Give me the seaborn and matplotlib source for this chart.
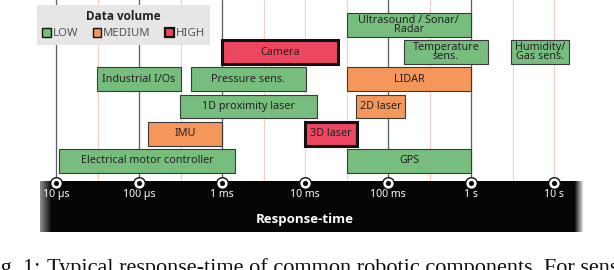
import numpy as np
import pandas as pd
import seaborn as sns
import matplotlib
matplotlib.use('Agg')
import matplotlib.pyplot as plt
from matplotlib.patches import Patch

# component response-time ranges (seconds)
names = ['Ultrasound / Sonar/\nRadar', 'Camera', 'Temperature\nsens.', 'Humidity/\nGas sens.',
         'Industrial I/Os', 'Pressure sens.', 'LIDAR',
         '1D proximity laser', '2D laser',
         'IMU', '3D laser',
         'Electrical motor controller', 'GPS']
starts = [0.0316, 0.001, 0.156, 3.0,
          3.1e-5, 4.2e-4, 0.032,
          3.1e-4, 0.041,
          1.3e-4, 0.01,
          1.1e-5, 0.032]
ends = [1.0, 0.025, 1.6, 15.0,
        3.2e-4, 0.0103, 1.0,
        0.014, 0.16,
        0.001, 0.042,
        1.45e-3, 1.0]
rows = [0, 1, 1, 1, 2, 2, 2, 3, 3, 4, 4, 5, 5]
volume = ['LOW', 'HIGH', 'LOW', 'LOW', 'LOW', 'LOW', 'MEDIUM',
          'LOW', 'MEDIUM', 'MEDIUM', 'HIGH', 'LOW', 'LOW']

tick_vals = [1e-5, 1e-4, 1e-3, 1e-2, 1e-1, 1, 10]
tick_labels = ['10 µs', '100 µs', '1 ms', '10 ms', '100 ms', '1 s', '10 s']

colors = {'LOW': '#77be7e', 'MEDIUM': '#f5975a', 'HIGH': '#ec4660'}

df = pd.DataFrame({'name': names, 'start': starts, 'end': ends, 'row': rows, 'volume': volume})

sns.set_theme(style='white')
plt.rcParams['font.family'] = ['Noto Sans', 'DejaVu Sans']
BOLD = ['Open Sans', 'DejaVu Sans']

W, H = 614, 270
fig = plt.figure(figsize=(W / 100, H / 100), dpi=100)
xlim = (10 ** -5.193, 10 ** 1.349)

# bars area
ax = fig.add_axes([40 / W, 1 - 181 / H, 543 / W, 181 / H])
ax.set_xscale('log')
ax.set_xlim(*xlim)
ax.set_ylim(5.74, -0.92)
ax.axis('off')

# grid lines
for e in np.arange(-5, 1.01, 0.5):
    ax.axvline(10 ** e, color='#f6cdc2', lw=0.8, zorder=0)
for t in [1e-5, 1e-4, 1e-3, 1e-1, 1]:
    ax.axvline(t, color='#56606c', lw=0.9, zorder=0.5)

for _, r in df.iterrows():
    high = r['volume'] == 'HIGH'
    ax.barh(r['row'], r['end'] - r['start'], left=r['start'], height=0.88,
            color=colors[r['volume']], edgecolor='#111111' if high else '#3a3a3a',
            linewidth=2.2 if high else 0.8, zorder=2)
    xc = np.sqrt(r['start'] * r['end'])
    ax.text(xc, r['row'], r['name'], ha='center', va='center', fontsize=7.8,
            color='#222222', linespacing=0.8, zorder=3)

# response-time band (image in pixel units, ticks on a log overlay)
rect = [40 / W, 1 - 232 / H, 543 / W, 51 / H]
bax = fig.add_axes(rect)
n = 543
shade = np.full(n, 0.02)
shade[:12] = np.linspace(0.55, 0.02, 12)
shade[-9:] = np.linspace(0.02, 0.85, 9)
img = np.repeat(np.repeat(shade[None, :, None], 3, axis=2), 2, axis=0)
bax.imshow(img, extent=(0, n, 0, 1), aspect='auto', interpolation='bilinear')
bax.set_xlim(0, n)
bax.set_ylim(0, 1)
bax.axis('off')

tax = fig.add_axes(rect)
tax.set_xscale('log')
tax.set_xlim(*xlim)
tax.set_ylim(0, 1)
ticks_df = pd.DataFrame({'x': tick_vals, 'y': [0.96] * len(tick_vals)})
sns.scatterplot(data=ticks_df, x='x', y='y', ax=tax, s=70, color='white',
                edgecolor='#111111', linewidth=1.0, zorder=4, clip_on=False, legend=False)
sns.scatterplot(data=ticks_df, x='x', y='y', ax=tax, s=14, color='#111111',
                linewidth=0, zorder=5, clip_on=False, legend=False)
tax.set_xlim(*xlim)
tax.set_ylim(0, 1)
tax.axis('off')
for t, lab in zip(tick_vals, tick_labels):
    tax.text(t, 0.74, lab, ha='center', va='center', color='white', fontsize=7.6)
tax.text(10 ** -2, 0.24, 'Response-time', ha='center', va='center', color='white',
         fontsize=9.5, fontweight='bold', family=BOLD)

# legend
handles = [Patch(facecolor=colors[k], edgecolor='#111111', linewidth=1.6 if k == 'HIGH' else 1.0, label=k)
           for k in ['LOW', 'MEDIUM', 'HIGH']]
leg = fig.legend(handles=handles, title='Data volume', ncol=3, loc='upper left',
                 bbox_to_anchor=(37 / W, 1 - 5 / H), fontsize=8.2, frameon=True,
                 fancybox=False, handlelength=0.75, handleheight=0.75, handletextpad=0.15,
                 columnspacing=1.3, borderpad=0.45, labelspacing=0.45, borderaxespad=0,
                 title_fontproperties={'weight': 'bold', 'size': 8.5, 'family': BOLD})
leg.get_frame().set_facecolor('#e6e6e6')
leg.get_frame().set_edgecolor('none')
leg.get_frame().set_alpha(1)
leg.get_title().set_color('#222222')
for t in leg.get_texts():
    t.set_color('#555555')

# caption (cut off at the bottom in the reference)
serif = ['Liberation Serif', 'DejaVu Serif']
fig.text(40 / W, 1 - 273 / H, 'Fig. 1:', ha='right', va='baseline', fontsize=16,
         family=serif, color='#111111')
fig.text(47 / W, 1 - 273 / H, 'Typical response-time of common robotic components. For sensors',
         ha='left', va='baseline', fontsize=16, family=serif, color='#111111')

fig.savefig('out.png', dpi=100)
